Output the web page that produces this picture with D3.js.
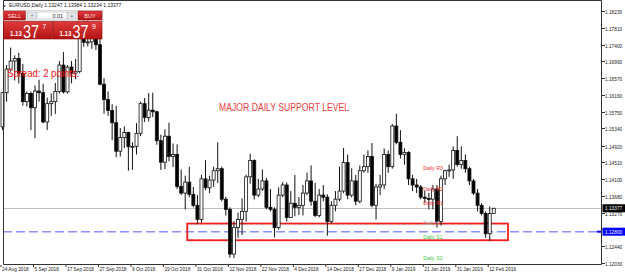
<!DOCTYPE html>
<html>
<head>
<meta charset="utf-8">
<script src="https://cdn.jsdelivr.net/npm/d3@7"></script>
<style>
  html, body { margin: 0; padding: 0; background: #fff; }
  svg { display: block; font-family: "Liberation Sans", Arial, sans-serif; }
</style>
</head>
<body>
<svg id="chart" width="625" height="275"></svg>
<script>
// EURUSD daily bars, 24 Aug 2018 .. 13 Feb 2019
const dates = [
  "2018-08-24","2018-08-27","2018-08-28","2018-08-29","2018-08-30","2018-08-31",
  "2018-09-03","2018-09-04","2018-09-05","2018-09-06","2018-09-07","2018-09-10",
  "2018-09-11","2018-09-12","2018-09-13","2018-09-14","2018-09-17","2018-09-18",
  "2018-09-19","2018-09-20","2018-09-21","2018-09-24","2018-09-25","2018-09-26",
  "2018-09-27","2018-09-28","2018-10-01","2018-10-02","2018-10-03","2018-10-04",
  "2018-10-05","2018-10-08","2018-10-09","2018-10-10","2018-10-11","2018-10-12",
  "2018-10-15","2018-10-16","2018-10-17","2018-10-18","2018-10-19","2018-10-22",
  "2018-10-23","2018-10-24","2018-10-25","2018-10-26","2018-10-29","2018-10-30",
  "2018-10-31","2018-11-01","2018-11-02","2018-11-05","2018-11-06","2018-11-07",
  "2018-11-08","2018-11-09","2018-11-12","2018-11-13","2018-11-14","2018-11-15",
  "2018-11-16","2018-11-19","2018-11-20","2018-11-21","2018-11-22","2018-11-23",
  "2018-11-26","2018-11-27","2018-11-28","2018-11-29","2018-11-30","2018-12-03",
  "2018-12-04","2018-12-05","2018-12-06","2018-12-07","2018-12-10","2018-12-11",
  "2018-12-12","2018-12-13","2018-12-14","2018-12-17","2018-12-18","2018-12-19",
  "2018-12-20","2018-12-21","2018-12-24","2018-12-26","2018-12-27","2018-12-28",
  "2018-12-31","2019-01-02","2019-01-03","2019-01-04","2019-01-07","2019-01-08",
  "2019-01-09","2019-01-10","2019-01-11","2019-01-14","2019-01-15","2019-01-16",
  "2019-01-17","2019-01-18","2019-01-21","2019-01-22","2019-01-23","2019-01-24",
  "2019-01-25","2019-01-28","2019-01-29","2019-01-30","2019-01-31","2019-02-01",
  "2019-02-04","2019-02-05","2019-02-06","2019-02-07","2019-02-08","2019-02-11",
  "2019-02-12","2019-02-13"
];
const opens = [
  1.1538,1.1622,1.1680,1.1700,1.1706,1.1670, 1.1600,1.1620,1.1585,1.1626,1.1622,1.1550,
  1.1595,1.1600,1.1625,1.1690,1.1624,1.1685, 1.1670,1.1674,1.1776,1.1746,1.1747,1.1765,
  1.1740,1.1643,1.1605,1.1578,1.1548,1.1478, 1.1512,1.1524,1.1489,1.1490,1.1522,1.1595,
  1.1561,1.1579,1.1575,1.1504,1.1451,1.1515, 1.1465,1.1470,1.1391,1.1375,1.1402,1.1372,
  1.1345,1.1310,1.1410,1.1388,1.1407,1.1430, 1.1435,1.1360,1.1335,1.1225,1.1290,1.1310,
  1.1330,1.1415,1.1455,1.1370,1.1385,1.1405, 1.1340,1.1335,1.1290,1.1370,1.1395,1.1315,
  1.1350,1.1340,1.1345,1.1375,1.1405,1.1355, 1.1320,1.1370,1.1365,1.1305,1.1345,1.1360,
  1.1380,1.1450,1.1370,1.1405,1.1355,1.1430, 1.1440,1.1465,1.1345,1.1390,1.1395,1.1470,
  1.1440,1.1540,1.1500,1.1470,1.1475,1.1410, 1.1395,1.1390,1.1365,1.1362,1.1360,1.1385,
  1.1305,1.1410,1.1430,1.1432,1.1480,1.1445, 1.1455,1.1435,1.1405,1.1375,1.1345,1.1325,
  1.1275,1.13247
];
const highs = [
  1.1623,1.1690,1.1733,1.1714,1.1720,1.1693, 1.1625,1.1625,1.1640,1.1654,1.1644,1.1610,
  1.1620,1.1646,1.1700,1.1722,1.1690,1.1700, 1.1705,1.1790,1.1802,1.1815,1.1787,1.1795,
  1.1755,1.1658,1.1625,1.1594,1.1590,1.1535, 1.1539,1.1526,1.1500,1.1547,1.1600,1.1609,
  1.1621,1.1622,1.1578,1.1519,1.1532,1.1548, 1.1497,1.1495,1.1433,1.1418,1.1440,1.1390,
  1.1370,1.1420,1.1456,1.1418,1.1440,1.1500, 1.1440,1.1366,1.1340,1.1306,1.1327,1.1362,
  1.1420,1.1472,1.1458,1.1410,1.1433,1.1412, 1.1385,1.1340,1.1389,1.1402,1.1401,1.1380,
  1.1420,1.1365,1.1395,1.1425,1.1443,1.1400, 1.1385,1.1395,1.1372,1.1355,1.1380,1.1440,
  1.1486,1.1470,1.1436,1.1420,1.1443,1.1470, 1.1480,1.1498,1.1398,1.1420,1.1485,1.1480,
  1.1545,1.1570,1.1530,1.1485,1.1478,1.1420, 1.1410,1.1395,1.1380,1.1375,1.1395,1.1395,
  1.1418,1.1433,1.1445,1.1490,1.1515,1.1490, 1.1470,1.1440,1.1410,1.1385,1.1350,1.1330,
  1.1342,1.13384
];
const lows = [
  1.1530,1.1600,1.1674,1.1652,1.1645,1.1590, 1.1588,1.1530,1.1510,1.1600,1.1547,1.1530,
  1.1565,1.1570,1.1620,1.1620,1.1620,1.1645, 1.1655,1.1670,1.1735,1.1736,1.1730,1.1727,
  1.1640,1.1570,1.1565,1.1505,1.1463,1.1465, 1.1486,1.1430,1.1432,1.1470,1.1515,1.1550,
  1.1551,1.1562,1.1494,1.1432,1.1434,1.1453, 1.1439,1.1385,1.1370,1.1335,1.1365,1.1340,
  1.1300,1.1302,1.1382,1.1375,1.1390,1.1400, 1.1355,1.1320,1.1216,1.1215,1.1265,1.1272,
  1.1305,1.1398,1.1359,1.1365,1.1380,1.1335, 1.1330,1.1266,1.1285,1.1365,1.1305,1.1315,
  1.1318,1.1321,1.1320,1.1370,1.1344,1.1316, 1.1315,1.1355,1.1270,1.1300,1.1330,1.1355,
  1.1375,1.1360,1.1365,1.1345,1.1350,1.1425, 1.1425,1.1340,1.1310,1.1370,1.1385,1.1425,
  1.1435,1.1495,1.1460,1.1445,1.1395,1.1380, 1.1375,1.1360,1.1350,1.1335,1.1335,1.1290,
  1.1295,1.1395,1.1415,1.1410,1.1440,1.1435, 1.1425,1.1395,1.1370,1.1330,1.1320,1.1265,
  1.1257,1.13234
];
const closes = [
  1.1622,1.1680,1.1700,1.1706,1.1670,1.1600, 1.1620,1.1585,1.1626,1.1622,1.1550,1.1595,
  1.1600,1.1625,1.1690,1.1624,1.1685,1.1670, 1.1674,1.1776,1.1746,1.1747,1.1765,1.1740,
  1.1643,1.1605,1.1578,1.1548,1.1478,1.1512, 1.1524,1.1489,1.1490,1.1522,1.1595,1.1561,
  1.1579,1.1575,1.1504,1.1451,1.1515,1.1465, 1.1470,1.1391,1.1375,1.1402,1.1372,1.1345,
  1.1310,1.1410,1.1388,1.1407,1.1430,1.1435, 1.1360,1.1335,1.1225,1.1290,1.1310,1.1330,
  1.1415,1.1455,1.1370,1.1385,1.1405,1.1340, 1.1335,1.1290,1.1370,1.1395,1.1315,1.1350,
  1.1340,1.1345,1.1375,1.1405,1.1355,1.1320, 1.1370,1.1365,1.1305,1.1345,1.1360,1.1380,
  1.1450,1.1370,1.1405,1.1355,1.1430,1.1440, 1.1465,1.1345,1.1390,1.1395,1.1470,1.1440,
  1.1540,1.1500,1.1470,1.1475,1.1410,1.1395, 1.1390,1.1365,1.1362,1.1360,1.1385,1.1305,
  1.1410,1.1430,1.1432,1.1480,1.1445,1.1455, 1.1435,1.1405,1.1375,1.1345,1.1325,1.1275,
  1.1325,1.13377
];

// axis ticks
const priceTicks = [1.18230,1.17810,1.17400,1.16990,1.16570,1.16160,1.15750,1.15340,
  1.14920,1.14510,1.14100,1.13680,1.13270,1.12860,1.12440,1.12030];
const dateTicks = ["2018-08-24","2018-09-05","2018-09-17","2018-09-27","2018-10-09",
  "2018-10-19","2018-10-31","2018-11-12","2018-11-22","2018-12-04","2018-12-14",
  "2018-12-27","2019-01-09","2019-01-21","2019-01-31","2019-02-12"];

// objects on the chart
const symbol = "EURUSD", period = "Daily";
const spread = 2;
const hLinePrice = 1.12800;
const zone = { fromBar: 45.5, toBar: 124.5, lo: 1.1259, hi: 1.1300 };
const note = { text: "MAJOR DAILY SUPPORT LEVEL", bar: 53.3, price: 1.1578 };
const pivotBar = 103.6;

const svg = d3.select("#chart");
const W = 625, H = 275;
const plotL = 3, plotR = 601, plotT = 0, plotB = 264;
const SX = 0.85; // screenshot was squeezed horizontally

const x = d3.scaleBand().domain(dates).range([0.5, 0.5 + dates.length * 4.06]);
const xc = d => x(d) + x.step() / 2;
const xAt = i => x.range()[0] + (i + 0.5) * x.step();
const y = d3.scaleLinear().domain([1.12030, 1.18230]).range([263, 11]);
const f5 = d3.format(".5f");

function txt(sel, px, py, s, size, fill, anchor, sx) {
  return sel.append("text")
    .attr("transform", `translate(${px},${py}) scale(${sx || SX},1)`)
    .attr("font-size", size)
    .attr("fill", fill)
    .attr("text-anchor", anchor || "start")
    .text(s);
}

svg.append("rect").attr("width", W).attr("height", H).attr("fill", "#fff");

const plot = svg.append("g");

// bid line
const last = dates.length - 1;
const bid = closes[last];
plot.append("line")
  .attr("x1", plotL).attr("x2", plotR)
  .attr("y1", Math.round(y(bid)) + 0.5).attr("y2", Math.round(y(bid)) + 0.5)
  .attr("stroke", "#c0c0c0").attr("stroke-width", 1);

// horizontal line object
plot.append("line")
  .attr("x1", plotL).attr("x2", plotR)
  .attr("y1", y(hLinePrice)).attr("y2", y(hLinePrice))
  .attr("stroke", "#8f8fff").attr("stroke-width", 1.5)
  .attr("stroke-dasharray", "9,4");

// support zone
plot.append("rect")
  .attr("x", xAt(zone.fromBar)).attr("y", y(zone.hi))
  .attr("width", xAt(zone.toBar) - xAt(zone.fromBar))
  .attr("height", y(zone.lo) - y(zone.hi))
  .attr("fill", "none").attr("stroke", "#ee1c1c").attr("stroke-width", 1.8);

// candles
const bars = dates.map((d, i) => ({ d, o: opens[i], h: highs[i], l: lows[i], c: closes[i] }));
const candle = plot.append("g").selectAll("g").data(bars).join("g");
candle.append("line")
  .attr("x1", d => xc(d.d)).attr("x2", d => xc(d.d))
  .attr("y1", d => y(d.h)).attr("y2", d => y(d.l))
  .attr("stroke", "#111").attr("stroke-width", 1);
candle.append("rect")
  .attr("x", d => xc(d.d) - 1.5)
  .attr("y", d => y(Math.max(d.o, d.c)))
  .attr("width", 3)
  .attr("height", d => Math.max(1, Math.abs(y(d.o) - y(d.c))))
  .attr("fill", d => d.c >= d.o ? "#fff" : "#000")
  .attr("stroke", "#111").attr("stroke-width", 0.8);

// pivot labels from the previous day
const pb = bars[last - 1];
const P = (pb.h + pb.l + pb.c) / 3;
const pivots = [
  { name: "Daily R3", v: pb.h + 2 * (P - pb.l), col: "#f03030" },
  { name: "Daily R2", v: P + (pb.h - pb.l), col: "#f03030" },
  { name: "Daily R1", v: 2 * P - pb.l, col: "#f03030" },
  { name: "Daily P", v: P, col: "#a8a8a8" },
  { name: "Daily S1", v: 2 * P - pb.h, col: "#3cc83c" },
  { name: "Daily S2", v: P - (pb.h - pb.l), col: "#3cc83c" }
];
pivots.forEach(p => txt(plot, xAt(pivotBar), y(p.v) + 5, p.name, 5.8, p.col, "start", 0.9));

// text object
txt(plot, xAt(note.bar), y(note.price), note.text, 10.2, "#f03c3c");

// frame
svg.append("path")
  .attr("d", `M${plotL + 0.5},${plotT + 0.5}H${plotR + 0.5}V${plotB + 0.5}H${plotL + 0.5}Z`)
  .attr("fill", "none").attr("stroke", "#333").attr("stroke-width", 1);

// price axis (labels under a price box are hidden, as in the terminal)
const boxes = [bid, hLinePrice];
const pa = svg.append("g");
priceTicks.forEach(v => {
  const py = Math.round(y(v)) + 0.5;
  pa.append("line").attr("x1", plotR + 1).attr("x2", plotR + 4)
    .attr("y1", py).attr("y2", py).attr("stroke", "#333");
  if (boxes.every(b => Math.abs(y(b) - y(v)) > 4)) txt(pa, 605, py + 2, f5(v), 5.6, "#222");
});
function priceBox(v, fill) {
  const py = y(v);
  pa.append("rect").attr("x", plotR + 1.5).attr("y", py - 4)
    .attr("width", W - plotR - 1.5).attr("height", 8).attr("fill", fill);
  txt(pa, 605, py + 2, f5(v), 5.6, "#fff");
}
priceBox(bid, "#000");
priceBox(hLinePrice, "#0000ff");
pa.append("line").attr("x1", plotR - 4).attr("x2", plotR)
  .attr("y1", y(hLinePrice)).attr("y2", y(hLinePrice))
  .attr("stroke", "#0000ff").attr("stroke-width", 2);

// date axis
const fmt = d3.timeFormat("%-d %b %Y");
const parse = d3.timeParse("%Y-%m-%d");
const da = svg.append("g");
dateTicks.forEach(d => {
  const tx = xc(d);
  da.append("line").attr("x1", tx - 1.5).attr("x2", tx - 1.5)
    .attr("y1", plotB + 1).attr("y2", plotB + 3).attr("stroke", "#333");
  txt(da, tx - 0.5, 271, fmt(parse(d)), 5.6, "#222");
});

// header
const hb = bars[last];
txt(svg, 2, 7, "\u25B2", 4.5, "#444", "start", 1);
txt(svg, 9, 7.3, `${symbol},${period}  ${f5(hb.o)}  ${f5(hb.h)}  ${f5(hb.l)}  ${f5(hb.c)}`, 5.5, "#111", "start", 0.92);

// spread label
txt(svg, 7, 77, `Spread: ${spread} points.`, 11, "#ff1010", "start", 0.87);

// one-click trading panel
const defs = svg.append("defs");
const grad = defs.append("linearGradient").attr("id", "redg").attr("x1", 0).attr("x2", 0).attr("y1", 0).attr("y2", 1);
grad.append("stop").attr("offset", 0).attr("stop-color", "#e03a3a");
grad.append("stop").attr("offset", 1).attr("stop-color", "#b41414");

const panel = svg.append("g");
panel.append("rect").attr("x", 3).attr("y", 10.5).attr("width", 99.5).attr("height", 10)
  .attr("fill", "#f2f2f2").attr("stroke", "#c8c8c8").attr("stroke-width", 0.6);
panel.append("rect").attr("x", 3.5).attr("y", 11).attr("width", 22).attr("height", 9)
  .attr("fill", "url(#redg)").attr("stroke", "#9a0c0c").attr("stroke-width", 0.5);
panel.append("rect").attr("x", 78).attr("y", 11).attr("width", 24).attr("height", 9)
  .attr("fill", "url(#redg)").attr("stroke", "#9a0c0c").attr("stroke-width", 0.5);
panel.append("rect").attr("x", 27.5).attr("y", 12).attr("width", 9).attr("height", 7)
  .attr("fill", "#e4e6ea").attr("stroke", "#b0b4ba").attr("stroke-width", 0.5);
panel.append("rect").attr("x", 37).attr("y", 12).attr("width", 30).attr("height", 7)
  .attr("fill", "#fff").attr("stroke", "#b0b4ba").attr("stroke-width", 0.5);
panel.append("rect").attr("x", 67.5).attr("y", 12).attr("width", 8.5).attr("height", 7)
  .attr("fill", "#e4e6ea").attr("stroke", "#b0b4ba").attr("stroke-width", 0.5);
txt(panel, 32, 17.3, "\u25BC", 4, "#7d8aa0", "middle", 1);
txt(panel, 71.7, 17.3, "\u25B2", 4, "#7d8aa0", "middle", 1);
txt(panel, 63, 17.8, "0.01", 6, "#222", "end", 0.9);
txt(panel, 14.5, 18, "SELL", 6.2, "#ffe6e6", "middle", 0.9);
txt(panel, 90, 18, "BUY", 6.2, "#ffe6e6", "middle", 0.9);

const ask = bid + spread / 100000;
[{ v: bid, x0: 3.5 }, { v: ask, x0: 53 }].forEach(q => {
  const s = f5(q.v);
  panel.append("rect").attr("x", q.x0).attr("y", 21.5).attr("width", 49).attr("height", 17.5)
    .attr("fill", "url(#redg)").attr("stroke", "#8e0a0a").attr("stroke-width", 0.6);
  txt(panel, q.x0 + 6.5, 36, s.slice(0, 4), 6.8, "#fff", "start", 0.9).attr("font-weight", "bold");
  txt(panel, q.x0 + 19.5, 37.5, s.slice(4, 6), 18, "#fff", "start", 0.8);
  txt(panel, q.x0 + 39, 29, s.slice(6), 8, "#fff", "start", 0.85);
});
</script>
</body>
</html>
